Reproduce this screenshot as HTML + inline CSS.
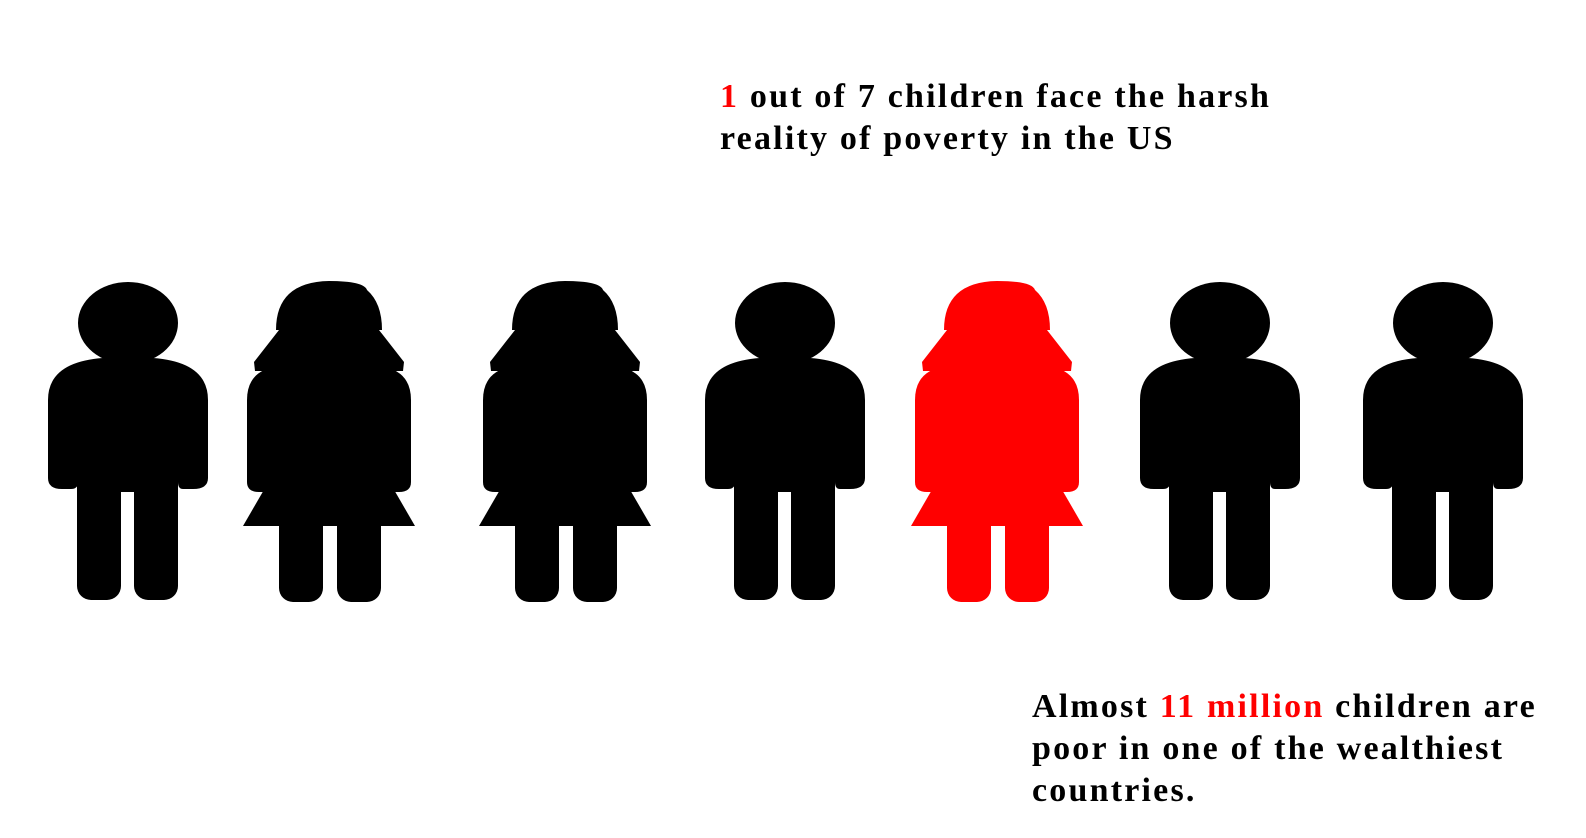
<!DOCTYPE html>
<html><head><meta charset="utf-8"><style>
html,body{margin:0;padding:0;background:#fff;width:1586px;height:838px;overflow:hidden}
.t{position:absolute;font-family:"Liberation Serif",serif;font-weight:bold;font-size:34px;letter-spacing:2.2px;line-height:42px;color:#000;margin:0;white-space:nowrap}
.r{color:#f00}
svg{position:absolute;left:0;top:0}
</style></head><body>
<p class="t" style="left:720px;top:76px"><span class="r">1</span> out of 7 children face the harsh<br>reality of poverty in the US</p>
<p class="t" style="left:1032px;top:686px">Almost <span class="r">11 million</span> children are<br>poor in one of the wealthiest<br>countries.</p>
<svg id="fig" width="1586" height="838"></svg>
<script>
const kinds=['boy','girl','girl','boy','girl','boy','boy'];
const highlight=[false,false,false,false,true,false,false];
const centers=[128,329,565,785,997,1220,1443];
const svg=document.getElementById('fig');
const NS='http://www.w3.org/2000/svg';
function add(g,tag,attrs){const e=document.createElementNS(NS,tag);for(const k in attrs)e.setAttribute(k,attrs[k]);g.appendChild(e);return e;}
kinds.forEach((k,i)=>{
  const c=centers[i];
  const g=document.createElementNS(NS,'g');
  
  
  g.setAttribute('fill',highlight[i]?'#ff0000':'#000');
  svg.appendChild(g);
  if(k==='boy'){
    add(g,'ellipse',{cx:c,cy:323,rx:50,ry:41});
    add(g,'path',{d:`M${c-80} 400 Q${c-80} 362 ${c-25} 358 L${c+25} 358 Q${c+80} 362 ${c+80} 400 L${c+80} 478 Q${c+80} 489 ${c+65} 489 L${c+55} 489 Q${c+50} 489 ${c+50} 482 L${c-50} 482 Q${c-50} 489 ${c-57} 489 L${c-66} 489 Q${c-80} 489 ${c-80} 478 Z`});
    add(g,'rect',{x:c-51,y:470,width:44,height:130,rx:14});
    add(g,'rect',{x:c+6,y:470,width:44,height:130,rx:14});
    add(g,'rect',{x:c-51,y:470,width:101,height:22});
  } else {
    add(g,'path',{d:`M${c-53} 330 Q${c-53} 282 ${c} 281 Q${c+35} 281 ${c+38} 290 Q${c+53} 303 ${c+53} 330 Z`});
    add(g,'polygon',{points:`${c-50},330 ${c+50},330 ${c+75},362 ${c+74},371 ${c-74},371 ${c-75},362`});
    add(g,'path',{d:`M${c-82} 400 Q${c-82} 370 ${c-50} 366 L${c+50} 366 Q${c+82} 370 ${c+82} 400 L${c+82} 482 Q${c+82} 492 ${c+70} 492 L${c-70} 492 Q${c-82} 492 ${c-82} 482 Z`});
    add(g,'polygon',{points:`${c-64},488 ${c+64},488 ${c+86},526 ${c-86},526`});
    add(g,'rect',{x:c-50,y:510,width:44,height:92,rx:14});
    add(g,'rect',{x:c+8,y:510,width:44,height:92,rx:14});
  }
});
</script>
</body></html>
